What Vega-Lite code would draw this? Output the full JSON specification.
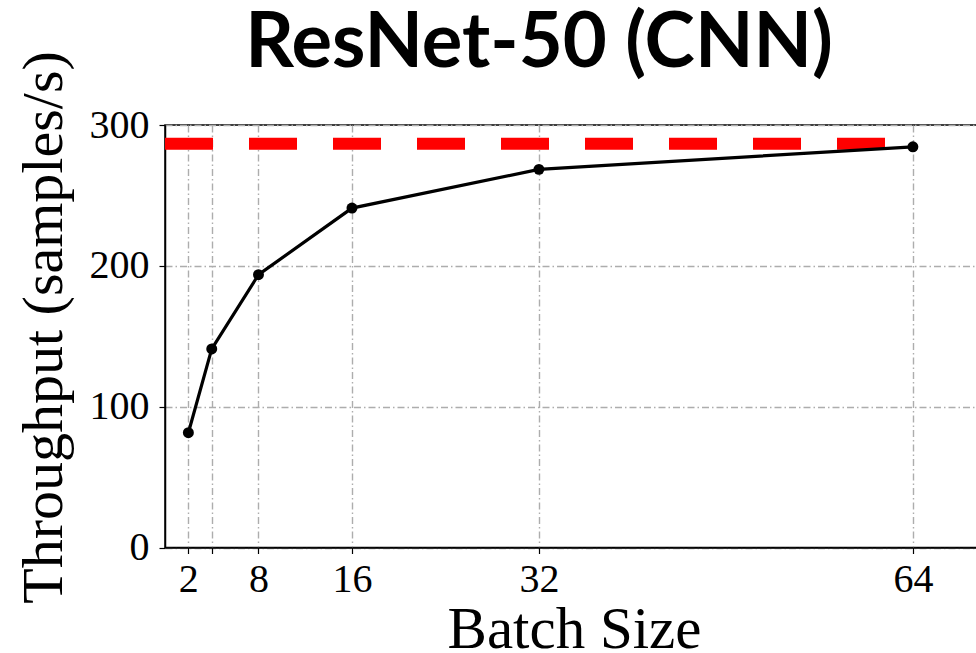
{
  "$schema": "https://vega.github.io/schema/vega-lite/v6.json",
  "autosize": "none",
  "width": 818,
  "height": 422.5,
  "padding": {"left": 165, "top": 125, "right": 0, "bottom": 106},
  "background": "white",
  "title": {
    "text": "ResNet-50 (CNN)",
    "font": "Lato",
    "fontSize": 76,
    "fontWeight": "bold",
    "color": "black",
    "anchor": "middle",
    "frame": "group",
    "dx": -35,
    "baseline": "alphabetic",
    "offset": -92
  },
  "config": {
    "view": {"stroke": "black", "strokeWidth": 1.5},
    "axis": {
      "labelFont": "Liberation Serif",
      "labelFontSize": 40,
      "labelColor": "black",
      "titleFont": "Liberation Serif",
      "titleFontSize": 58,
      "titleFontWeight": "normal",
      "titleColor": "black",
      "domainColor": "black",
      "domainWidth": 1.5,
      "tickColor": "black",
      "tickWidth": 1.2,
      "tickSize": 6,
      "gridColor": "#adadad",
      "gridWidth": 1.4,
      "gridDash": [7, 3, 1.5, 3],
      "gridOpacity": 1
    }
  },
  "datasets": {
    "perf": [
      {"batch": 2, "throughput": 81.5},
      {"batch": 4, "throughput": 141},
      {"batch": 8, "throughput": 193.7},
      {"batch": 16, "throughput": 241},
      {"batch": 32, "throughput": 268.5},
      {"batch": 64, "throughput": 284.5}
    ],
    "peak": [
      {"start": 0, "end": 64, "throughput": 286.6}
    ]
  },
  "layer": [
    {
      "data": {"name": "peak"},
      "mark": {"type": "rule", "color": "#ff0000", "strokeWidth": 12, "strokeDash": [48, 36], "strokeCap": "butt"},
      "encoding": {
        "x": {"field": "start", "type": "quantitative", "scale": {"domain": [0, 70], "nice": false, "zero": false},
          "axis": {"values": [2, 4, 8, 16, 32, 64], "labelExpr": "datum.value == 4 ? '' : datum.label", "title": "Batch Size", "labelPadding": 6, "titlePadding": 1, "titleFontSize": 59}},
        "x2": {"field": "end"},
        "y": {"field": "throughput", "type": "quantitative", "scale": {"domain": [0, 300], "nice": false},
          "axis": {"values": [0, 100, 200, 300], "title": "Throughput (samples/s)", "labelPadding": 10, "titlePadding": 16, "titleY": 202}}
      }
    },
    {
      "data": {"name": "perf"},
      "mark": {"type": "line", "color": "black", "strokeWidth": 3.2, "point": {"filled": true, "color": "black", "size": 120, "opacity": 1}},
      "encoding": {
        "x": {"field": "batch", "type": "quantitative"},
        "y": {"field": "throughput", "type": "quantitative"}
      }
    }
  ]
}
